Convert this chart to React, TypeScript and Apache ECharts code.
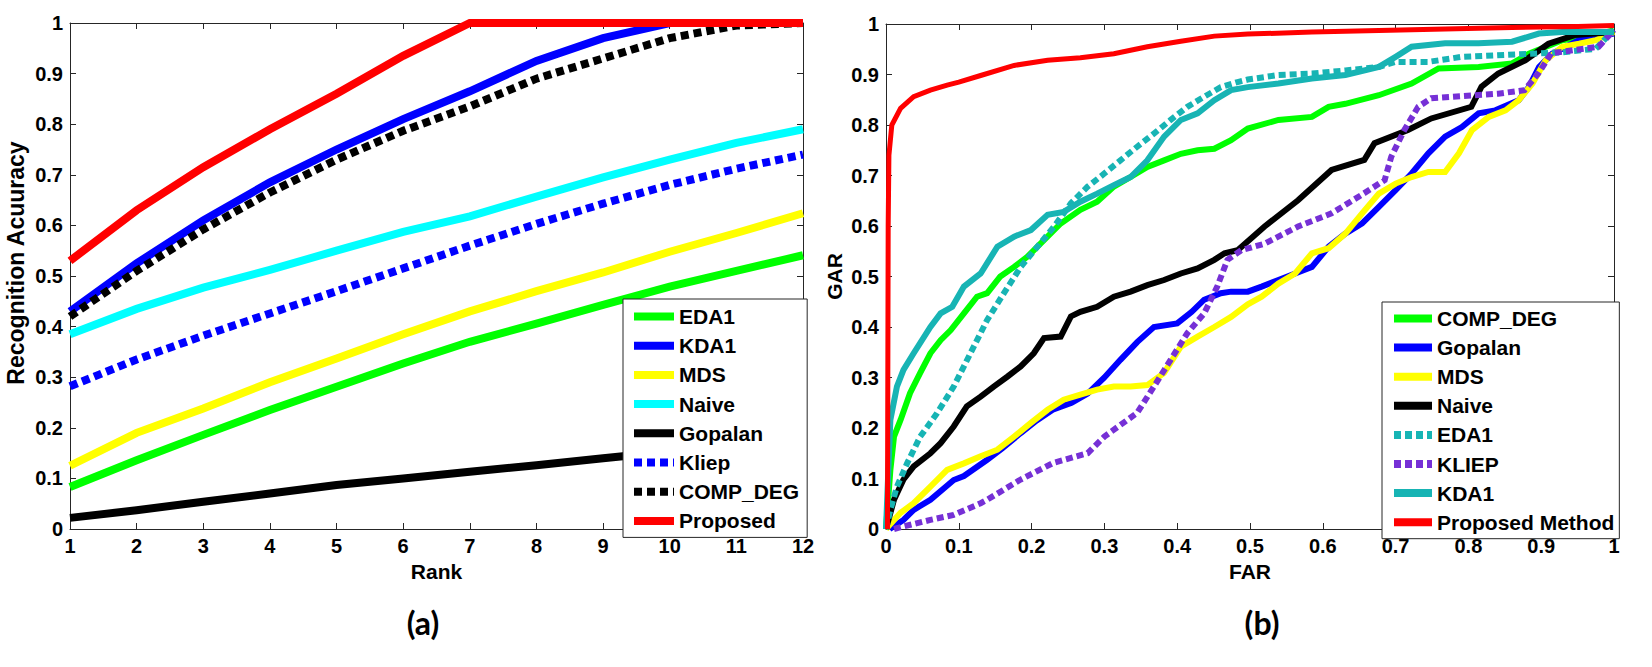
import React, { useEffect, useRef } from "react";
import * as echarts from "echarts";

// ---------- (a) Rank vs Recognition Accuracy ----------
const ranks = [1, 2, 3, 4, 5, 6, 7, 8, 9, 10, 11, 12];
const edaA = [0.083, 0.136, 0.186, 0.235, 0.281, 0.327, 0.37, 0.406, 0.443, 0.479, 0.51, 0.541];
const kdaA = [0.43, 0.525, 0.61, 0.685, 0.75, 0.81, 0.865, 0.925, 0.97, 1.0, 1.0, 1.0];
const mdsA = [0.125, 0.19, 0.238, 0.29, 0.337, 0.385, 0.43, 0.47, 0.507, 0.548, 0.585, 0.624];
const naiveA = [0.385, 0.435, 0.477, 0.512, 0.55, 0.587, 0.618, 0.657, 0.695, 0.73, 0.763, 0.79];
const gopalanA = [0.022, 0.037, 0.054, 0.07, 0.087, 0.1, 0.113, 0.126, 0.14, 0.153, 0.166, 0.18];
const kliepA = [0.282, 0.335, 0.382, 0.426, 0.47, 0.515, 0.56, 0.603, 0.643, 0.68, 0.712, 0.74];
const compA = [0.42, 0.51, 0.592, 0.665, 0.73, 0.787, 0.835, 0.89, 0.93, 0.97, 0.995, 1.0];
const proposedA = [0.53, 0.63, 0.715, 0.79, 0.86, 0.935, 1.0, 1.0, 1.0, 1.0, 1.0, 1.0];

// ---------- (b) FAR vs GAR: [FAR, GAR] ----------
const compB = [[0,0],[0.006,0.117],[0.011,0.183],[0.02,0.216],[0.033,0.269],[0.047,0.309],[0.061,0.348],[0.075,0.374],[0.089,0.394],[0.107,0.427],[0.125,0.46],[0.139,0.467],[0.157,0.5],[0.176,0.519],[0.194,0.539],[0.217,0.572],[0.24,0.605],[0.267,0.632],[0.29,0.648],[0.313,0.678],[0.336,0.697],[0.359,0.717],[0.382,0.73],[0.405,0.743],[0.428,0.75],[0.451,0.753],[0.474,0.77],[0.497,0.793],[0.539,0.81],[0.585,0.816],[0.608,0.836],[0.631,0.842],[0.677,0.859],[0.722,0.882],[0.759,0.912],[0.814,0.915],[0.86,0.922],[0.883,0.941],[0.929,0.968],[0.975,0.978],[1,0.988]];
const gopalanB = [[0.005,0],[0.024,0.018],[0.038,0.038],[0.061,0.058],[0.093,0.097],[0.107,0.105],[0.139,0.137],[0.16,0.16],[0.185,0.19],[0.207,0.215],[0.23,0.237],[0.255,0.25],[0.277,0.268],[0.3,0.3],[0.322,0.335],[0.345,0.37],[0.368,0.4],[0.4,0.407],[0.42,0.43],[0.437,0.454],[0.46,0.467],[0.474,0.47],[0.497,0.47],[0.516,0.48],[0.539,0.493],[0.562,0.506],[0.585,0.519],[0.608,0.559],[0.631,0.585],[0.654,0.605],[0.677,0.638],[0.7,0.671],[0.722,0.704],[0.745,0.744],[0.768,0.777],[0.791,0.796],[0.814,0.823],[0.837,0.829],[0.869,0.849],[0.883,0.875],[0.897,0.915],[0.915,0.941],[0.952,0.968],[1,0.981]];
const mdsB = [[0,0],[0.02,0.032],[0.038,0.051],[0.061,0.084],[0.084,0.117],[0.107,0.13],[0.13,0.144],[0.153,0.157],[0.176,0.183],[0.199,0.21],[0.222,0.236],[0.244,0.256],[0.267,0.266],[0.29,0.276],[0.313,0.282],[0.336,0.282],[0.359,0.285],[0.382,0.309],[0.405,0.361],[0.428,0.381],[0.451,0.4],[0.474,0.42],[0.497,0.445],[0.516,0.46],[0.539,0.486],[0.562,0.506],[0.585,0.546],[0.608,0.556],[0.631,0.585],[0.654,0.625],[0.677,0.664],[0.7,0.684],[0.722,0.697],[0.745,0.707],[0.768,0.707],[0.787,0.744],[0.805,0.79],[0.828,0.816],[0.851,0.829],[0.869,0.849],[0.888,0.882],[0.906,0.928],[0.929,0.955],[0.952,0.961],[0.975,0.968],[1,0.984]];
const naiveB = [[0,0],[0.011,0.058],[0.024,0.098],[0.038,0.124],[0.061,0.15],[0.075,0.17],[0.093,0.203],[0.111,0.243],[0.13,0.262],[0.148,0.282],[0.167,0.302],[0.185,0.322],[0.203,0.348],[0.217,0.378],[0.24,0.381],[0.254,0.421],[0.267,0.43],[0.29,0.44],[0.313,0.46],[0.336,0.47],[0.359,0.483],[0.382,0.493],[0.405,0.506],[0.428,0.516],[0.451,0.533],[0.465,0.546],[0.483,0.552],[0.52,0.599],[0.566,0.651],[0.612,0.711],[0.657,0.731],[0.671,0.764],[0.717,0.79],[0.749,0.813],[0.804,0.836],[0.818,0.876],[0.841,0.902],[0.878,0.928],[0.91,0.961],[0.946,0.978],[1,0.984]];
const eda1B = [[0,0],[0.006,0.038],[0.015,0.084],[0.029,0.13],[0.047,0.183],[0.07,0.229],[0.093,0.282],[0.116,0.348],[0.139,0.414],[0.162,0.467],[0.185,0.519],[0.208,0.559],[0.231,0.599],[0.254,0.645],[0.277,0.678],[0.3,0.704],[0.322,0.73],[0.345,0.757],[0.368,0.783],[0.391,0.81],[0.414,0.836],[0.437,0.856],[0.46,0.875],[0.483,0.885],[0.497,0.89],[0.539,0.899],[0.585,0.902],[0.631,0.908],[0.677,0.915],[0.7,0.925],[0.745,0.925],[0.791,0.935],[0.837,0.938],[0.883,0.941],[0.929,0.944],[0.975,0.951],[0.995,0.981]];
const kliepB = [[0.011,0],[0.024,0.005],[0.061,0.018],[0.093,0.028],[0.13,0.051],[0.139,0.058],[0.185,0.098],[0.23,0.131],[0.277,0.15],[0.3,0.183],[0.345,0.23],[0.368,0.282],[0.391,0.335],[0.414,0.388],[0.437,0.427],[0.455,0.48],[0.469,0.533],[0.488,0.552],[0.52,0.565],[0.566,0.599],[0.612,0.625],[0.657,0.665],[0.685,0.691],[0.694,0.737],[0.712,0.79],[0.731,0.836],[0.749,0.853],[0.841,0.862],[0.877,0.869],[0.896,0.902],[0.914,0.942],[0.979,0.955],[1,0.988]];
const kda1B = [[0,0],[0.006,0.216],[0.015,0.282],[0.024,0.315],[0.038,0.348],[0.061,0.4],[0.075,0.427],[0.091,0.44],[0.107,0.48],[0.13,0.506],[0.153,0.559],[0.176,0.579],[0.199,0.592],[0.222,0.622],[0.244,0.628],[0.267,0.648],[0.29,0.664],[0.313,0.681],[0.336,0.697],[0.359,0.73],[0.382,0.777],[0.405,0.81],[0.428,0.823],[0.451,0.849],[0.474,0.869],[0.497,0.875],[0.539,0.882],[0.585,0.892],[0.631,0.899],[0.677,0.915],[0.7,0.935],[0.722,0.955],[0.768,0.962],[0.814,0.962],[0.86,0.965],[0.897,0.981],[0.929,0.984],[1,0.984]];
const proposedB = [[0.002,0],[0.003,0.6],[0.004,0.74],[0.008,0.8],[0.02,0.833],[0.038,0.856],[0.061,0.869],[0.084,0.879],[0.1,0.885],[0.13,0.898],[0.176,0.918],[0.222,0.928],[0.267,0.933],[0.313,0.941],[0.359,0.955],[0.405,0.966],[0.451,0.976],[0.497,0.98],[0.585,0.984],[0.677,0.987],[0.768,0.99],[0.86,0.993],[0.95,0.995],[1,0.997]];

const leftLabels = ["EDA1", "KDA1", "MDS", "Naive", "Gopalan", "Kliep", "COMP_DEG", "Proposed"];
const rightLabels = ["COMP_DEG", "Gopalan", "MDS", "Naive", "EDA1", "KLIEP", "KDA1", "Proposed Method"];
const xTicksA = { min: 1, max: 12, step: 1 };
const xTicksB = { min: 0, max: 1, step: 0.1 };
const yTicks = { min: 0, max: 1, step: 0.1 };

const FONT = "Liberation Sans";
const AXIS_COLOR = "#262626";

export default function App() {
  const ref = useRef<HTMLDivElement>(null);
  useEffect(() => {
    if (!ref.current) return;
    const chart = echarts.init(ref.current, undefined, { renderer: "svg" });

    const labelStyle = { color: "#000", fontSize: 20, fontWeight: "bold", fontFamily: FONT };
    const nameStyle = { color: "#000", fontSize: 21, fontWeight: "bold", fontFamily: FONT };
    const mkAxis = (gridIndex: number, t: any, position: string, main: boolean, extra: any = {}) => ({
      gridIndex,
      type: "value",
      min: t.min,
      max: t.max,
      interval: t.step,
      position,
      axisLine: { show: true, onZero: false, lineStyle: { color: AXIS_COLOR, width: 1 } },
      axisTick: { show: true, inside: true, length: 6, lineStyle: { color: AXIS_COLOR, width: 1 } },
      axisLabel: main ? { ...labelStyle, margin: 7 } : { show: false },
      splitLine: { show: false },
      ...extra,
    });

    const lineSeries = (name: string, data: any, color: string, width: number, axis: number, dashed?: number[]) => ({
      type: "line",
      name,
      data,
      xAxisIndex: axis,
      yAxisIndex: axis,
      showSymbol: false,
      symbol: "none",
      clip: true,
      lineStyle: { color, width, type: dashed ? dashed : "solid", cap: "butt", join: "miter" },
      itemStyle: { color },
      emphasis: { disabled: true },
    });

    const A = (v: number[]) => ranks.map((r, i) => [r, v[i]]);
    const aColors = ["#00FF00", "#0000FF", "#FFFF00", "#00FFFF", "#000000", "#0000FF", "#000000", "#FF0000"];
    const aData = [edaA, kdaA, mdsA, naiveA, gopalanA, kliepA, compA, proposedA];
    const aDash: (number[] | undefined)[] = [undefined, undefined, undefined, undefined, undefined, [8, 5], [8, 5], undefined];
    const teal = "#17B4B4";
    const bColors = ["#00FF00", "#0000FF", "#FFFF00", "#000000", teal, "#7630D6", teal, "#FF0000"];
    const bData = [compB, gopalanB, mdsB, naiveB, eda1B, kliepB, kda1B, proposedB];
    const bDash: (number[] | undefined)[] = [undefined, undefined, undefined, undefined, [7, 4], [7, 4], undefined, undefined];

    const series: any[] = [];
    leftLabels.forEach((n, i) => series.push(lineSeries("a:" + n, A(aData[i]), aColors[i], 8, 0, aDash[i])));
    rightLabels.forEach((n, i) => series.push(lineSeries("b:" + n, bData[i], bColors[i], i === 7 ? 5 : 6, 2, bDash[i])));

    const legendCommon = {
      orient: "vertical",
      backgroundColor: "#fff",
      borderColor: AXIS_COLOR,
      borderWidth: 1,
      borderRadius: 0,
      itemHeight: 20,
      selectedMode: false,
      formatter: (name: string) => name.slice(2),
      textStyle: { color: "#000", fontSize: 21, fontWeight: "bold", fontFamily: FONT, lineHeight: 20 },
      itemStyle: { opacity: 0 },
      lineStyle: { width: 8 },
    };

    chart.setOption({
      animation: false,
      backgroundColor: "#fff",
      grid: [
        { left: 70, top: 23, width: 733, height: 506 },
        { left: 886, top: 24, width: 728, height: 505 },
      ],
      xAxis: [
        mkAxis(0, xTicksA, "bottom", true, { name: "Rank", nameLocation: "middle", nameGap: 29, nameTextStyle: nameStyle }),
        mkAxis(0, xTicksA, "top", false),
        mkAxis(1, xTicksB, "bottom", true, { name: "FAR", nameLocation: "middle", nameGap: 29, nameTextStyle: nameStyle }),
        mkAxis(1, xTicksB, "top", false),
      ],
      yAxis: [
        mkAxis(0, yTicks, "left", true, { name: "Recognition Acuuracy", nameLocation: "middle", nameGap: 43, nameRotate: 90, nameTextStyle: { ...nameStyle, fontSize: 23, padding: [0, 0, 0, 26] } }),
        mkAxis(0, yTicks, "right", false),
        mkAxis(1, yTicks, "left", true, { name: "GAR", nameLocation: "middle", nameGap: 41, nameRotate: 90, nameTextStyle: nameStyle }),
        mkAxis(1, yTicks, "right", false),
      ],
      legend: [
        {
          ...legendCommon,
          data: leftLabels.map((n) => "a:" + n),
          left: 623,
          top: 299,
          padding: [7, 8, 6, 7],
          itemGap: 8.2,
          itemWidth: 40,
        },
        {
          ...legendCommon,
          data: rightLabels.map((n) => "b:" + n),
          left: 1382,
          top: 302,
          padding: [6, 5, 6, 8],
          itemGap: 8.1,
          itemWidth: 38,
        },
      ],
      series,
      graphic: [
        { type: "text", x: 423, y: 622, style: { text: "(a)", fontSize: 32, fontWeight: "bold", fontFamily: "Lato", fill: "#000", align: "center", verticalAlign: "middle" } },
        { type: "text", x: 1262, y: 622, style: { text: "(b)", fontSize: 32, fontWeight: "bold", fontFamily: "Lato", fill: "#000", align: "center", verticalAlign: "middle" } },
      ],
    });
    return () => chart.dispose();
  }, []);
  return <div ref={ref} style={{ position: "fixed", left: 0, top: 0, width: 1652, height: 667, background: "#fff" }} />;
}
